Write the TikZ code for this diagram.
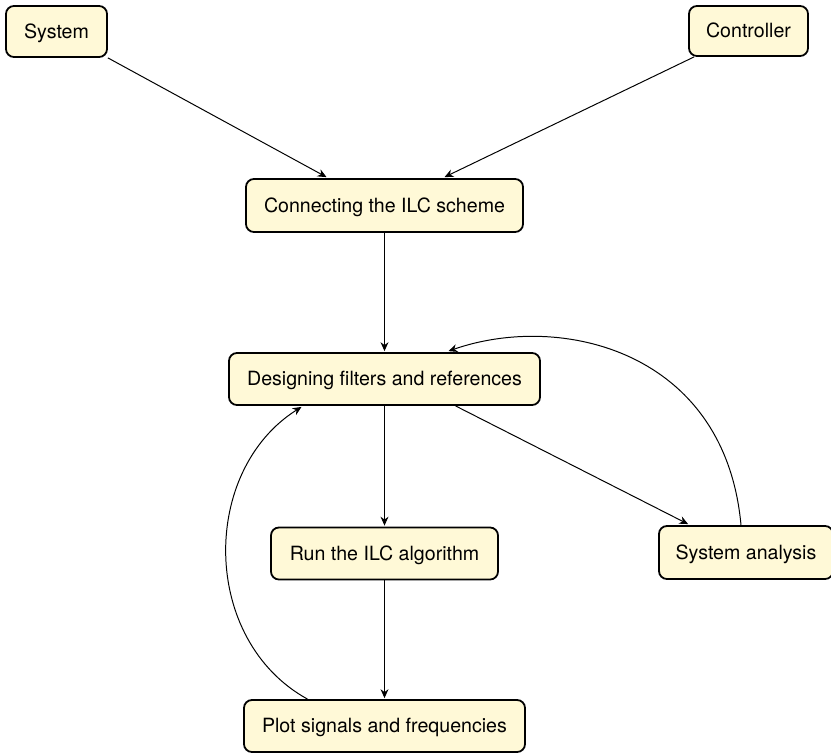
\documentclass[tikz,border=0pt]{standalone}
\usepackage{fontspec}
\setmainfont{TeX Gyre Heros}
\usetikzlibrary{arrows.meta,calc}
\definecolor{boxfill}{RGB}{255,249,215}
\tikzset{
  stagebox/.style={draw=black, line width=0.9pt, fill=boxfill, rounded corners=4pt,
    font=\fontsize{9.9pt}{12pt}\selectfont, inner sep=0pt, align=center,
    text height=0.72em, text depth=0.05em},
  link/.style={line width=0.5pt, -{Stealth[length=4.5pt,width=4pt]}},
}
\begin{document}
\begin{tikzpicture}[x=0.505pt,y=-0.505pt]
\useasboundingbox (0,0) rectangle (831,754);
\node[stagebox, minimum width=101*0.505pt, minimum height=51*0.505pt] (sys) at (56.5,31.5) {System};
\node[stagebox, minimum width=119*0.505pt, minimum height=50*0.505pt] (ctrl) at (748.5,31) {Controller};
\node[stagebox, minimum width=277*0.505pt, minimum height=53*0.505pt] (conn) at (384.5,205.5) {Connecting the ILC scheme};
\node[stagebox, minimum width=311*0.505pt, minimum height=52*0.505pt] (des) at (384.5,379) {Designing filters and references};
\node[stagebox, minimum width=227*0.505pt, minimum height=52*0.505pt] (run) at (384.5,553.5) {Run the ILC algorithm};
\node[stagebox, minimum width=174*0.505pt, minimum height=53*0.505pt] (sa) at (746,552.5) {System analysis};
\node[stagebox, minimum width=281*0.505pt, minimum height=52*0.505pt] (plot) at (384.5,726) {Plot signals and frequencies};

\draw[link] (sys.south east) -- ($(conn.north)+(-58,-1)$);
\draw[link] ($(ctrl.south west)+(6,0)$) -- ($(conn.north)+(60,-1)$);
\draw[link] (conn.south) -- ($(des.north)+(0,-1)$);
\draw[link] (des.south) -- ($(run.north)+(0,-1)$);
\draw[link] (run.south) -- ($(plot.north)+(0,-1)$);
\draw[link] ($(des.south)+(71,0)$) -- ($(sa.north west)+(30,-1)$);
\draw[link] ($(sa.north)+(-5,0)$) .. controls +(-16,-175) and +(111.5,-39) .. ($(des.north)+(64,-1)$);
\draw[link] ($(plot.north)+(-77,0)$) .. controls +(-107,-59) and +(-101.5,64) .. ($(des.south)+(-83,1)$);
\end{tikzpicture}
\end{document}
